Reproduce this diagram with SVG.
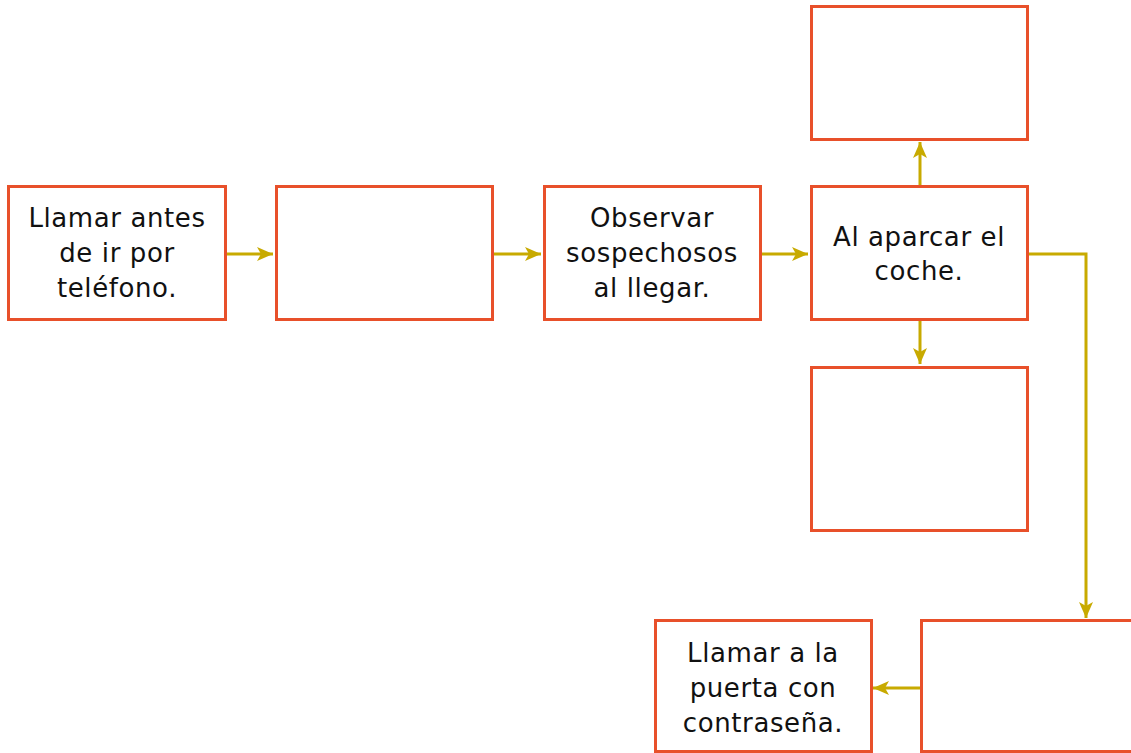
<svg xmlns="http://www.w3.org/2000/svg" width="1131" height="753" viewBox="0 0 1131 753">
<defs>
<style>
.box{fill:#fff;stroke:#e8502a;stroke-width:3}
.lbl{font-family:"DejaVu Sans","Liberation Sans",sans-serif;font-size:26px;fill:#111;text-anchor:middle;letter-spacing:0.6px}
.con{fill:none;stroke:#c8aa00;stroke-width:3}
</style>
<marker id="ah" viewBox="0 0 16 14" refX="16" refY="7" markerWidth="16" markerHeight="14" markerUnits="userSpaceOnUse" orient="auto">
<path d="M0,0 L16,7 L0,14 L4,7 Z" fill="#c8aa00"/>
</marker>
</defs>
<rect width="1131" height="753" fill="#fff"/>
<g id="connectors">
<line class="con" x1="225" y1="254" x2="273" y2="254" marker-end="url(#ah)"/>
<line class="con" x1="492" y1="254" x2="541" y2="254" marker-end="url(#ah)"/>
<line class="con" x1="760" y1="254" x2="808" y2="254" marker-end="url(#ah)"/>
<line class="con" x1="920" y1="186" x2="920" y2="142" marker-end="url(#ah)"/>
<line class="con" x1="920" y1="320" x2="920" y2="364" marker-end="url(#ah)"/>
<polyline class="con" points="1028,254 1086,254 1086,618" marker-end="url(#ah)"/>
<line class="con" x1="921" y1="688" x2="873" y2="688" marker-end="url(#ah)"/>
</g>
<g id="n1"><rect class="box" x="8.5" y="186.5" width="217" height="133"/>
<text class="lbl" x="117" y="227">Llamar antes</text><text class="lbl" x="117" y="262">de ir por</text><text class="lbl" x="117" y="297">teléfono.</text></g>
<g id="n2"><rect class="box" x="276.5" y="186.5" width="216" height="133"/></g>
<g id="n3"><rect class="box" x="544.5" y="186.5" width="216" height="133"/>
<text class="lbl" x="652" y="227">Observar</text><text class="lbl" x="652" y="262">sospechosos</text><text class="lbl" x="652" y="297">al llegar.</text></g>
<g id="n4"><rect class="box" x="811.5" y="186.5" width="216" height="133"/>
<text class="lbl" x="919" y="246">Al aparcar el</text><text class="lbl" x="919" y="280">coche.</text></g>
<g id="n5"><rect class="box" x="811.5" y="6.5" width="216" height="133"/></g>
<g id="n6"><rect class="box" x="811.5" y="367.5" width="216" height="163"/></g>
<g id="n7"><rect class="box" x="921.5" y="620.5" width="220" height="131"/></g>
<g id="n8"><rect class="box" x="655.5" y="620.5" width="216" height="131"/>
<text class="lbl" x="763" y="662">Llamar a la</text><text class="lbl" x="763" y="697">puerta con</text><text class="lbl" x="763" y="732">contraseña.</text></g>
</svg>
